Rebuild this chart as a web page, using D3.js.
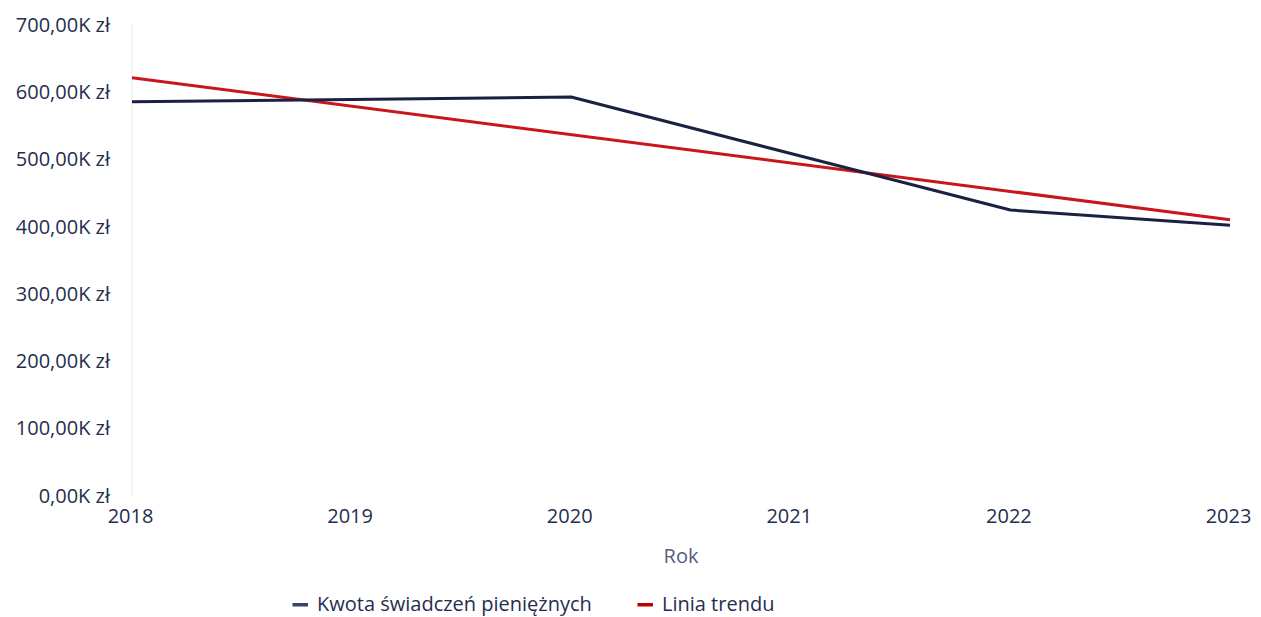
<!DOCTYPE html>
<html><head><meta charset="utf-8">
<script src="https://cdn.jsdelivr.net/npm/d3@7"></script>
<style>body{margin:0;background:#fff}svg{display:block}</style>
</head><body><svg id="c" width="1261" height="617"></svg>
<script>
const years = ["2018","2019","2020","2021","2022","2023"];
const amounts = [584.5, 587.8, 591.5, 507.5, 423.5, 401]; // K zł
const trendYears = ["2018","2023"];
const trendValues = [620, 409];
const yTicks = [0,100,200,300,400,500,600,700];
const seriesNames = ["Kwota świadczeń pieniężnych","Linia trendu"];
const xTitle = "Rok";

const svg = d3.select("#c");
const font = "'Open Sans', 'Noto Sans', sans-serif";
const textCol = "#252e4f";
const x = d3.scalePoint().domain(years).range([132,1230]);
const y = d3.scaleLinear().domain([0,700]).range([495,24]);

// faint left rule
svg.append("line").attr("x1",x("2018")).attr("x2",x("2018")).attr("y1",y(700)).attr("y2",y(0))
  .attr("stroke","#f4f4f4").attr("stroke-width",2);

const fmt = v => d3.format(",.2f")(v).replace(/,/g," ").replace(".",",") + "K zł";
const yAxis = d3.axisLeft(y).tickValues(yTicks).tickSize(0).tickPadding(0).tickFormat(fmt);
const gy = svg.append("g").attr("transform","translate(110,0)").call(yAxis);
gy.select(".domain").remove();
gy.selectAll("text").attr("font-family",font).attr("font-size",20).attr("fill",textCol).attr("dy","0.36em");

const xAxis = d3.axisBottom(x).tickSize(0).tickPadding(0);
const gx = svg.append("g").call(xAxis);
gx.select(".domain").remove();
gx.selectAll("text").attr("font-family",font).attr("font-size",20).attr("fill",textCol)
  .attr("y",523).attr("dy",0).attr("dx",-2);

svg.append("text").attr("x",(x("2018")+x("2023"))/2).attr("y",563)
  .attr("text-anchor","middle").attr("font-family",font).attr("font-size",20).attr("fill","#545c83").text(xTitle);

const line = d3.line().x(d=>x(d[0])).y(d=>y(d[1]));
svg.append("path").datum(trendYears.map((t,i)=>[t,trendValues[i]]))
  .attr("d",line).attr("fill","none").attr("stroke","#c8161d").attr("stroke-width",3);
svg.append("path").datum(years.map((t,i)=>[t,amounts[i]]))
  .attr("d",line).attr("fill","none").attr("stroke","#1b2142").attr("stroke-width",3).attr("stroke-linejoin","round");

const legColors = ["#3a4466","#c00000"];
const legX = [292.5, 637.5];
seriesNames.forEach((n,i)=>{
  svg.append("rect").attr("x",legX[i]).attr("y",603).attr("width",15.5).attr("height",3.5).attr("fill",legColors[i]);
  svg.append("text").attr("x",legX[i]+24.5).attr("y",611).attr("font-family",font)
    .attr("font-size",20).attr("fill",textCol).text(n);
});
</script></body></html>
